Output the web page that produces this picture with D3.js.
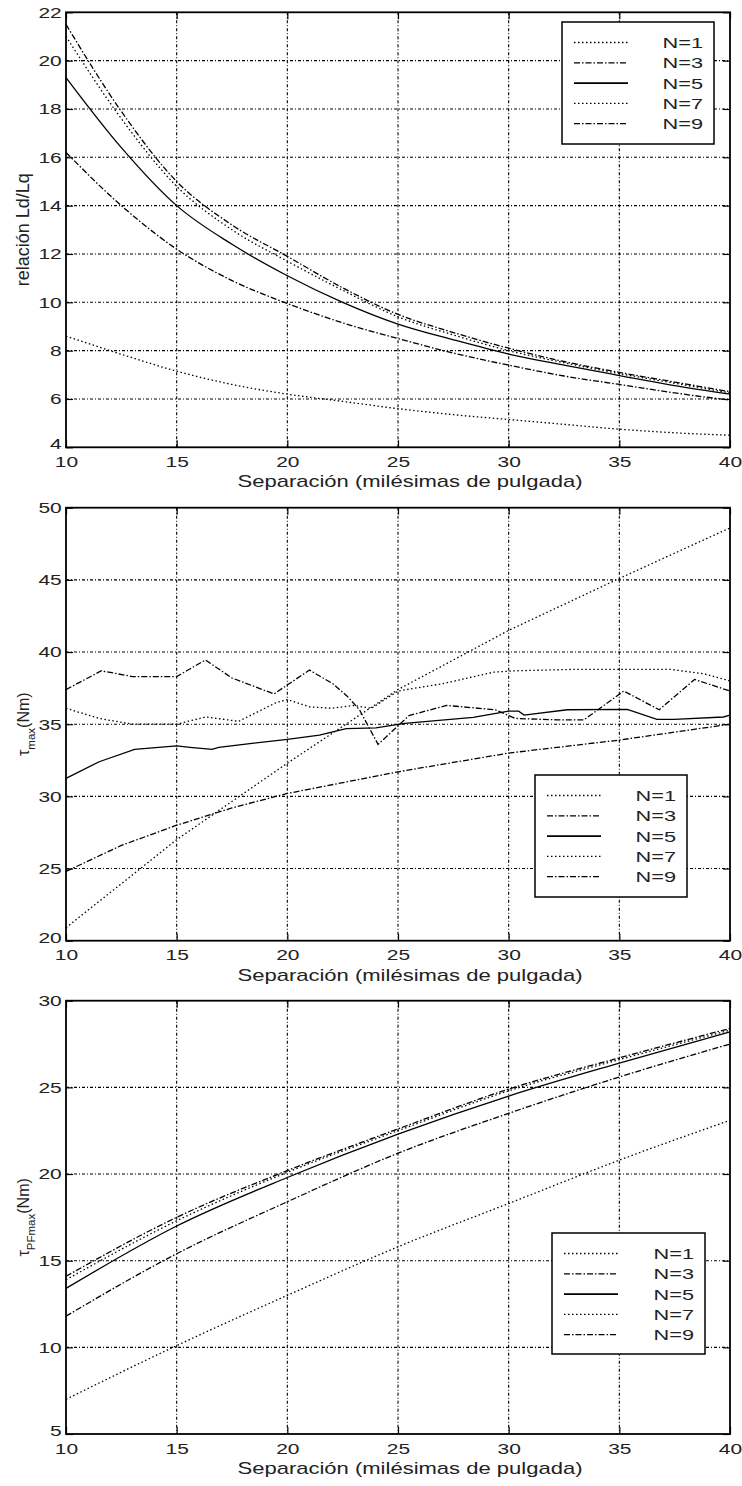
<!DOCTYPE html>
<html>
<head>
<meta charset="utf-8">
<script src="https://cdn.jsdelivr.net/npm/d3@7"></script>
<style>
body{margin:0;background:#fff;}
svg text{font-family:Arial,"Liberation Sans",Helvetica,sans-serif;fill:#222;}
</style>
</head>
<body>
<svg id="svg1" width="742" height="1486"></svg>
<script>
// ---- datos ----
var sepTicks = [10,15,20,25,30,35,40];
var sep = [10,12.5,15,17.5,20,22.5,25,27.5,30,32.5,35,37.5,40];
var legendNames = ["N=1","N=3","N=5","N=7","N=9"];

// panel 1: relacion Ld/Lq
var ratioTicks = [4,6,8,10,12,14,16,18,20,22];
var ratioN1 = [8.6,7.85,7.15,6.6,6.2,5.9,5.6,5.35,5.15,4.95,4.75,4.6,4.5];
var ratioN3 = [21.5,17.9,15.0,13.2,11.9,10.6,9.5,8.75,8.1,7.55,7.1,6.7,6.3];
var ratioN5 = [19.3,16.4,14.0,12.4,11.1,10.0,9.1,8.45,7.86,7.4,6.97,6.55,6.2];
var ratioN7 = [21.0,17.6,14.8,13.0,11.7,10.5,9.4,8.65,8.0,7.5,7.05,6.65,6.25];
var ratioN9 = [16.2,14.0,12.2,10.9,9.95,9.15,8.5,7.9,7.4,6.95,6.6,6.25,5.95];

// panel 2: tau max (Nm)
var tmaxTicks = [20,25,30,35,40,45,50];
var tmaxN1X = [10,15,20,25,30,35,40];
var tmaxN1 = [20.9,27.0,32.3,37.4,41.5,45.1,48.6];
var tmaxN3X = [10,11.6,13,15,16.3,17.5,18.7,19.4,21,22.06,22.73,23.26,24.1,25.5,27.2,29.4,30.3,32.2,33.4,35.2,36.8,38.4,40];
var tmaxN3 = [37.4,38.7,38.3,38.3,39.45,38.2,37.5,37.1,38.75,37.8,36.9,36.0,33.6,35.6,36.3,36.0,35.4,35.3,35.3,37.3,36.0,38.1,37.3];
var tmaxN5X = [10,11.5,13.1,15,15.6,16.6,16.9,18.4,20,21.45,22.66,24,25.3,28.4,30,30.45,30.7,32.65,35.36,36.7,37.47,39.7,40];
var tmaxN5 = [31.25,32.4,33.26,33.5,33.4,33.26,33.4,33.67,33.95,34.25,34.7,34.75,35.06,35.47,35.9,35.9,35.63,36.0,36.03,35.33,35.33,35.5,35.63];
var tmaxN7X = [10,11.5,13,15,16.3,17.8,19.5,20,21,22,23,23.8,25,27,29.3,30.3,33,37.3,38.8,40];
var tmaxN7 = [36.1,35.4,35.0,35.0,35.5,35.2,36.5,36.7,36.2,36.1,36.3,36.1,37.3,37.8,38.6,38.7,38.8,38.8,38.5,38.0];
var tmaxN9X = [10,12.5,15,17.5,20,25,30,35,40];
var tmaxN9 = [24.8,26.6,28.0,29.2,30.2,31.7,33.0,33.9,35.0];

// panel 3: tau PFmax (Nm)
var pfTicks = [5,10,15,20,25,30];
var pfN1 = [7.0,10.1,13.0,15.8,18.3,20.8,23.1];
var pfN3 = [14.1,17.5,20.2,22.6,24.9,26.7,28.4];
var pfN5 = [13.4,17.0,19.8,22.3,24.5,26.4,28.2];
var pfN7 = [13.9,17.3,20.1,22.5,24.8,26.6,28.3];
var pfN9 = [11.8,15.4,18.4,21.2,23.5,25.6,27.5];

// estilos de linea (N=1..N=9)
var dashes = ["1.5,2.5","6,2,1.5,2",null,"1.5,2.5","6,2,1.5,2"];
var gridDash = "3,2,1,2";
var xLabel = "Separación (milésimas de pulgada)";

var svg = d3.select("#svg1");
var left = 66, right = 730;
var scaleX = d3.scaleLinear().domain([10,40]).range([left,right]);

function zip(xs, ys){ return xs.map(function(x,i){ return [x, ys[i]]; }); }

function drawPanel(p){
	var g = svg.append("g");
	var scaleY = d3.scaleLinear().domain([p.ticks[0], p.ticks[p.ticks.length-1]]).range([p.bottom,p.top]);

	// rejilla
	var gGrid = g.append("g").attr("stroke","#000").attr("stroke-width",1.1).attr("stroke-dasharray",gridDash);
	sepTicks.slice(1,-1).forEach(function(v){
		gGrid.append("line").attr("x1",scaleX(v)).attr("x2",scaleX(v)).attr("y1",p.top).attr("y2",p.bottom);
	});
	p.ticks.slice(1,-1).forEach(function(v){
		gGrid.append("line").attr("x1",left).attr("x2",right).attr("y1",scaleY(v)).attr("y2",scaleY(v));
	});

	// curvas
	var line = d3.line().x(function(d){return scaleX(d[0]);}).y(function(d){return scaleY(d[1]);})
		.curve(p.smooth ? d3.curveMonotoneX : d3.curveLinear);
	p.series.forEach(function(s,i){
		g.append("path").datum(s).attr("d",line).attr("fill","none").attr("stroke","#000")
			.attr("stroke-width",1.3).attr("stroke-dasharray",dashes[i]);
	});

	// ejes (marcas hacia dentro)
	var axisB = d3.axisBottom(scaleX).tickValues(sepTicks).tickSizeInner(-7).tickSizeOuter(0).tickPadding(9);
	g.append("g").attr("transform","translate(0,"+p.bottom+")").call(axisB);
	var axisT = d3.axisTop(scaleX).tickValues(sepTicks).tickSizeInner(-7).tickSizeOuter(0).tickFormat("");
	g.append("g").attr("transform","translate(0,"+p.top+")").call(axisT);
	var axisL = d3.axisLeft(scaleY).tickValues(p.ticks).tickSizeInner(-7).tickSizeOuter(0).tickPadding(3);
	var gL = g.append("g").attr("transform","translate("+left+",0)").call(axisL);
	var axisR = d3.axisRight(scaleY).tickValues(p.ticks).tickSizeInner(-7).tickSizeOuter(0).tickFormat("");
	g.append("g").attr("transform","translate("+right+",0)").call(axisR);
	g.selectAll(".domain").remove();
	g.selectAll(".tick line").attr("stroke","#000").attr("stroke-width",1.2);
	g.selectAll(".tick text").attr("font-size",15).attr("fill","#222").attr("transform","scale(1.4,1)");
	// la etiqueta inferior del eje Y queda un poco arriba, como en el original
	gL.selectAll(".tick text").filter(function(d){ return d === p.ticks[0]; }).attr("dy","0.1em");

	// marco
	g.append("rect").attr("x",left).attr("y",p.top).attr("width",right-left).attr("height",p.bottom-p.top)
		.attr("fill","none").attr("stroke","#000").attr("stroke-width",1.8);

	// leyenda
	var lg = g.append("g");
	lg.append("rect").attr("x",p.legend.x).attr("y",p.legend.y).attr("width",p.legend.w).attr("height",p.legend.h)
		.attr("fill","#fff").attr("stroke","#000").attr("stroke-width",1.5);
	legendNames.forEach(function(name,i){
		var yy = p.legend.y + 20.5 + i*20.3;
		lg.append("line").attr("x1",p.legend.x+12).attr("x2",p.legend.x+66).attr("y1",yy).attr("y2",yy)
			.attr("stroke","#000").attr("stroke-width",i==2?1.8:1.3).attr("stroke-dasharray",dashes[i]);
		lg.append("text").attr("transform","translate("+(p.legend.x+p.legend.w-11)+","+yy+") scale(1.45,1)")
			.attr("text-anchor","end").attr("dy","0.36em").attr("font-size",15).text(name);
	});

	// titulos de ejes
	g.append("text").attr("x",410).attr("y",p.bottom+40).attr("text-anchor","middle")
		.attr("font-size",17).attr("textLength",345).attr("lengthAdjust","spacingAndGlyphs").text(xLabel);
	var yl = g.append("text").attr("transform","translate(29,"+((p.top+p.bottom)/2)+") rotate(-90)")
		.attr("text-anchor","middle").attr("font-size",p.ylabelSize);
	p.ylabel.forEach(function(part){
		var t = yl.append("tspan").text(part.t);
		if(part.sub) t.attr("font-size",p.ylabelSize*0.72).attr("baseline-shift","sub");
	});
}

drawPanel({
	top:12.3, bottom:447.3, ticks:ratioTicks, smooth:true,
	series:[zip(sep,ratioN1),zip(sep,ratioN3),zip(sep,ratioN5),zip(sep,ratioN7),zip(sep,ratioN9)],
	legend:{x:562,y:22,w:152,h:122},
	ylabel:[{t:"relación Ld/Lq"}], ylabelSize:18
});
drawPanel({
	top:507.7, bottom:940.7, ticks:tmaxTicks, smooth:false,
	series:[zip(tmaxN1X,tmaxN1),zip(tmaxN3X,tmaxN3),zip(tmaxN5X,tmaxN5),zip(tmaxN7X,tmaxN7),zip(tmaxN9X,tmaxN9)],
	legend:{x:535,y:775,w:152,h:122},
	ylabel:[{t:"τ"},{t:"max",sub:true},{t:"(Nm)"}], ylabelSize:16
});
drawPanel({
	top:1000.7, bottom:1434, ticks:pfTicks, smooth:true,
	series:[zip(sepTicks,pfN1),zip(sepTicks,pfN3),zip(sepTicks,pfN5),zip(sepTicks,pfN7),zip(sepTicks,pfN9)],
	legend:{x:552,y:1233,w:153,h:121},
	ylabel:[{t:"τ"},{t:"PFmax",sub:true},{t:"(Nm)"}], ylabelSize:16
});
</script>
</body>
</html>
